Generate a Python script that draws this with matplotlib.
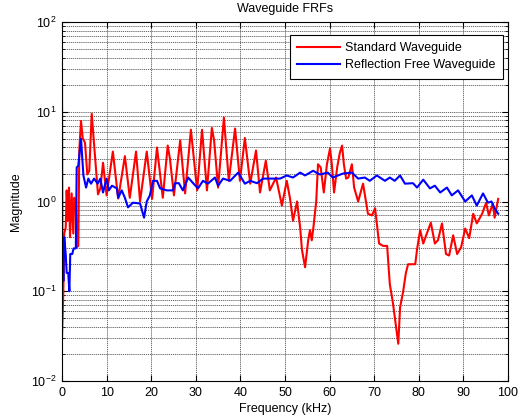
import matplotlib.pyplot as plt
import numpy as np

# Standard waveguide FRF (frequency in kHz, magnitude)
std_freq = [0.0, 0.3, 0.5, 0.83, 1.05, 1.28, 1.57, 1.8, 2.17, 2.53, 2.76, 3.14,
            3.36, 3.65, 3.88, 4.26, 4.64, 5.16, 5.67, 6.12, 6.66, 7.24, 8.07,
            8.6, 9.2, 10.0, 11.4, 12.6, 14.1, 15.2, 16.6, 17.5, 19.0, 20.2,
            21.3, 22.6, 23.7, 24.2, 25.1, 26.5, 27.6, 28.9, 30.3, 31.4, 32.5,
            33.6, 34.1, 35.0, 36.3, 37.4, 38.8, 39.9, 41.0, 42.2, 43.5, 44.4,
            45.7, 46.6, 48.0, 49.3, 50.4, 51.1, 51.8, 52.7, 53.4, 53.8, 54.5,
            55.2, 55.6, 56.0, 56.3, 57.0, 57.4, 58.0, 58.7, 59.4, 60.1, 60.5,
            61.0, 61.7, 62.3, 62.8, 63.2, 63.7, 64.2, 65.0, 65.5, 66.4, 67.5,
            68.6, 69.5, 70.2, 71.1, 72.0, 72.9, 73.5, 74.2, 74.9, 75.4, 75.8,
            76.5, 77.1, 77.6, 78.5, 79.2, 79.6, 80.3, 81.0, 81.8, 82.7, 83.6,
            84.3, 85.2, 86.1, 86.8, 87.7, 88.6, 89.5, 90.4, 91.3, 92.2, 93.0,
            94.2, 95.1, 95.7, 96.6, 97.0, 97.8]
std_mag = [0.03, 0.1, 0.44, 0.51, 1.33, 0.61, 1.43, 0.4, 1.23, 0.44, 1.1, 0.95,
           0.31, 0.32, 3.7, 7.9, 5.1, 4.5, 2.0, 2.2, 9.5, 4.0, 1.2,
           1.4, 2.7, 1.17, 3.6, 1.08, 3.2, 1.1, 3.6, 1.0, 3.6, 1.07,
           4.0, 1.1, 4.2, 3.0, 1.17, 4.8, 1.23, 6.3, 1.33, 6.3, 1.33,
           6.6, 4.8, 1.43, 8.6, 1.7, 6.5, 1.7, 5.1, 1.58, 3.7, 1.26,
           2.85, 1.33, 1.85, 0.9, 1.7, 1.1, 0.61, 1.0, 0.51, 0.29, 0.185,
           0.37, 0.48, 0.37, 0.48, 1.0, 2.6, 2.4, 1.26, 2.6, 3.9, 2.6,
           1.26, 2.4, 3.5, 4.2, 2.6, 1.8, 1.85, 2.6, 1.43, 1.0, 1.58,
           0.73, 0.7, 0.84, 0.34, 0.32, 0.32, 0.12, 0.074, 0.04, 0.026, 0.066,
           0.1, 0.16, 0.2, 0.2, 0.2, 0.29, 0.48, 0.34, 0.44, 0.58, 0.34,
           0.37, 0.57, 0.26, 0.25, 0.42, 0.26, 0.31, 0.5, 0.39, 0.73, 0.57,
           0.73, 0.97, 0.7, 0.95, 0.66, 1.07]

# Reflection free waveguide FRF
rf_freq = [0.0, 0.07, 0.3, 0.5, 0.83, 1.05, 1.4, 1.65, 1.85, 2.3, 2.6, 3.1,
           3.3, 3.65, 4.26, 4.8, 5.4, 5.9, 6.5, 7.2, 8.0, 8.6, 9.2, 10.0,
           10.5, 11.2, 12.3, 12.6, 13.4, 14.1, 14.8, 15.9, 17.5, 18.4, 19.0,
           19.7, 20.4, 21.3, 22.0, 23.5, 24.9, 25.3, 26.2, 27.1, 28.3, 29.4,
           30.5, 31.6, 32.7, 34.3, 35.0, 36.1, 37.7, 39.5, 41.0, 42.2, 43.7,
           45.1, 46.6, 48.9, 50.4, 51.8, 53.4, 54.5, 56.3, 57.8, 59.6, 60.7,
           63.0, 65.0, 66.4, 67.9, 69.0, 70.6, 72.4, 73.5, 74.6, 75.8, 76.9,
           78.7, 79.6, 81.0, 82.5, 83.6, 84.8, 86.3, 87.4, 88.8, 90.4, 91.9,
           93.0, 94.4, 95.5, 96.3, 97.0, 97.8]
rf_mag = [20.0, 0.37, 0.13, 0.4, 0.26, 0.16, 0.16, 0.1, 0.26, 0.26, 0.3, 0.3,
          2.4, 2.5, 5.0, 1.95, 1.43, 1.8, 1.58, 1.8, 1.58, 1.8, 1.26, 1.8,
          1.33, 1.5, 1.4, 1.1, 1.33, 1.1, 0.86, 0.97, 0.95, 0.66, 1.0,
          1.17, 1.7, 1.7, 1.4, 1.33, 1.33, 1.6, 1.6, 1.33, 1.85, 1.6,
          1.4, 1.7, 1.58, 1.85, 1.5, 1.8, 1.7, 2.1, 1.58, 1.7, 1.6,
          1.8, 1.8, 1.8, 1.95, 1.85, 2.1, 1.95, 2.2, 2.0, 2.1, 1.85,
          2.05, 2.1, 1.8, 1.85, 1.7, 1.95, 1.7, 1.85, 1.7, 1.95, 1.58,
          1.6, 1.43, 1.75, 1.4, 1.5, 1.26, 1.43, 1.17, 1.33, 1.0, 1.17,
          0.9, 1.23, 0.97, 1.0, 0.84, 0.73]

plt.rcParams['font.family'] = ['Liberation Sans', 'DejaVu Sans']
plt.rcParams['mathtext.fontset'] = 'custom'
plt.rcParams['mathtext.rm'] = 'Liberation Sans'
plt.rcParams['mathtext.it'] = 'Liberation Sans'

fig = plt.figure(figsize=(5.19, 4.18), dpi=100)
ax = fig.add_axes([62 / 519, 37 / 418, 446 / 519, 359 / 418])

ax.semilogy(std_freq, std_mag, color='red', linewidth=1.5,
            label='Standard Waveguide')
ax.semilogy(rf_freq, rf_mag, color='blue', linewidth=1.5,
            label='Reflection Free Waveguide')

ax.set_xlim(0, 100)
ax.set_ylim(1e-2, 1e2)
ax.set_xticks(np.arange(0, 101, 10))

# Grid in the MATLAB style
ax.grid(True, which='major', axis='both', linestyle=(0, (1.5, 1)),
        color='#555555', linewidth=0.6)
ax.grid(True, which='minor', axis='y', linestyle=(0, (1.5, 1)),
        color='#555555', linewidth=0.6)

ax.tick_params(axis='both', which='both', direction='in', top=True,
               right=True, labelsize=9, colors='black')
ax.tick_params(which='major', length=4, pad=4)
ax.tick_params(which='minor', length=2)
for s in ax.spines.values():
    s.set_linewidth(0.8)

ax.set_title('Waveguide FRFs', fontsize=9, pad=7)
ax.set_xlabel('Frequency (kHz)', fontsize=9, labelpad=3)
ax.set_ylabel('Magnitude', fontsize=9, labelpad=6)

leg = ax.legend(loc='upper right', bbox_to_anchor=(0.989, 0.964),
                borderaxespad=0, fontsize=9, frameon=True, fancybox=False,
                edgecolor='black', framealpha=1, handlelength=3.4,
                handletextpad=0.45, borderpad=0.6, labelspacing=0.4)
leg.get_frame().set_linewidth(0.8)

fig.savefig('out.png', dpi=100)
